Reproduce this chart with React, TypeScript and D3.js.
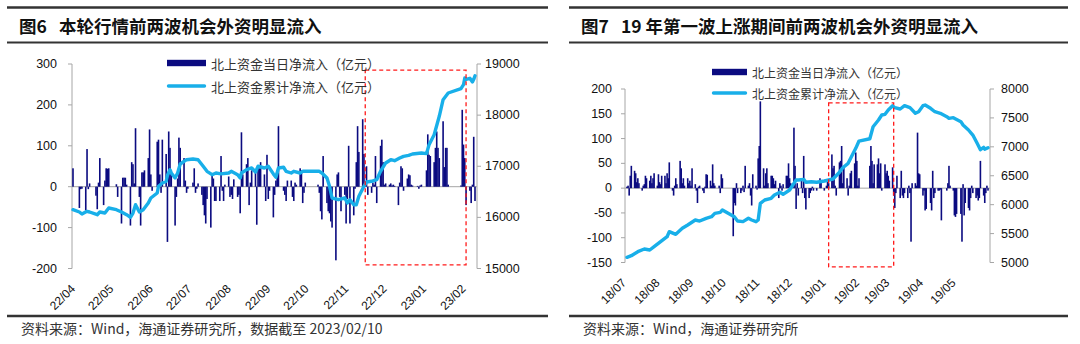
import React from "react";
import * as d3 from "d3";

// ---------------- DATA: left chart (图6) ----------------
const leftStart = "2022-04-01";
// daily northbound net inflow (亿元), one value per weekday from 2022-04-01
const leftDailyFlow: number[] = [
  45,
  0, 0, -52, -6, -5,
  -58, 92, -6, 8, 0,
  0, -22, -55, 10, 70,
  -45, 15, 45, 44, 45,
  0, 0, 0, 6, -25,
  -90, 22, 22, 22, 5,
  -95, 60, 55, 8, 143,
  -25, -95, 35, 35, 40,
  70, 140, 30, -10, 0,
  110, 115, 30, -15, 115,
  80, -135, 135, 95, 40,
  -95, -25, 20, 120, 95,
  70, 15, -15, -5, 0,
  10, 45, -15, -5, 8,
  -20, -45, -70, -90, -30,
  -100, 30, 20, -35, -35,
  -35, 75, -10, -35, 5,
  25, -25, -20, -30, 18,
  -25, -20, -65, 133, 30,
  55, 70, -45, 10, 40,
  35, -93, 50, 45, 60,
  30, -35, 78, -30, -10,
  -75, -20, 15, 30, 148,
  0, -10, -20, -35, 15,
  15, -25, -35, 10, 5,
  45, 40, -40, -15, 10,
  0, 0, 0, 0, 0,
  5, -15, -60, -80, 75,
  -40, -60, -65, -85, -100,
  -180, 30, 35, -25, -60,
  -20, -90, -30, 100, -90,
  -70, -5, 60, 148, 85,
  165, 80, 10, 50, -20,
  -15, 10, 5, 75, -40,
  100, 115, 60, 5, 8,
  5, 8, 3, 5, 2,
  -45, 10, 50, 45, -10,
  20, 30, 28, 5, 3,
  0, 2, -5, 3, 5,
  0, 40, 128, 78, 75,
  60, 95, 135, 95, 70,
  160, 48, 95, 95, 5,
  0, 0, 0, 0, 0,
  3, 188, 103, 70, -45,
  -10, -40, 5, 122, -35,
];
// cumulative northbound net inflow (亿元)
const leftCumDates: string[] = [
  "2022-04-01", "2022-04-06", "2022-04-08", "2022-04-12", "2022-04-14", "2022-04-20", "2022-04-22",
  "2022-04-26", "2022-04-29", "2022-05-05", "2022-05-09", "2022-05-13", "2022-05-16", "2022-05-18",
  "2022-05-20", "2022-05-23", "2022-05-26", "2022-05-30", "2022-06-01", "2022-06-06", "2022-06-07",
  "2022-06-10", "2022-06-13", "2022-06-14", "2022-06-16", "2022-06-17", "2022-06-20", "2022-06-22",
  "2022-06-24", "2022-06-29", "2022-07-04", "2022-07-08", "2022-07-12", "2022-07-15", "2022-07-19",
  "2022-07-22", "2022-07-26", "2022-08-01", "2022-08-03", "2022-08-08", "2022-08-10", "2022-08-11",
  "2022-08-15", "2022-08-19", "2022-08-22", "2022-08-24", "2022-08-29", "2022-09-01", "2022-09-05",
  "2022-09-07", "2022-09-09", "2022-09-13", "2022-09-15", "2022-09-19", "2022-09-21", "2022-09-26",
  "2022-09-28", "2022-09-30", "2022-10-11", "2022-10-13", "2022-10-17", "2022-10-19", "2022-10-21",
  "2022-10-26", "2022-10-31", "2022-11-02", "2022-11-04", "2022-11-07", "2022-11-09", "2022-11-11",
  "2022-11-15", "2022-11-17", "2022-11-21", "2022-11-25", "2022-11-28", "2022-12-02", "2022-12-06",
  "2022-12-09", "2022-12-13", "2022-12-16", "2022-12-20", "2022-12-23", "2022-12-30", "2023-01-03",
  "2023-01-05", "2023-01-09", "2023-01-13", "2023-01-16", "2023-01-20", "2023-01-30", "2023-02-01",
  "2023-02-02", "2023-02-03", "2023-02-06", "2023-02-08", "2023-02-09", "2023-02-10",
];
const leftCumValues: number[] = [
  16150, 16105, 16066, 16118, 16105, 16052, 16105,
  16085, 16183, 16150, 16105, 16052, 16000, 16085,
  16248, 16105, 16150, 16281, 16379, 16477, 16608,
  16672, 16706, 16823, 16933, 16868, 16770, 16868,
  17044, 17128, 17142, 17128, 17000, 16901, 16835,
  16868, 16850, 16868, 16901, 16835, 16770, 16868,
  16933, 16966, 16888, 17000, 16966, 17000, 16850,
  16784, 16966, 16980, 16901, 16868, 16901, 16868,
  16901, 16901, 16901, 16868, 16770, 16608, 16379,
  16346, 16379, 16281, 16346, 16248, 16248, 16412,
  16608, 16692, 16706, 16737, 16901, 17064, 17128,
  17108, 17161, 17194, 17213, 17240, 17260, 17247,
  17421, 17617, 17977, 18302, 18433, 18517, 18595,
  18726, 18700, 18720, 18650, 18700, 18770,
];
const leftMonthTicks = [
  "2022-04-01", "2022-05-01", "2022-06-01", "2022-07-01", "2022-08-01", "2022-09-01",
  "2022-10-01", "2022-11-01", "2022-12-01", "2023-01-01", "2023-02-01",
];
const leftMonthLabels = ["22/04", "22/05", "22/06", "22/07", "22/08", "22/09", "22/10", "22/11", "22/12", "23/01", "23/02"];
const leftYTicks = [300, 200, 100, 0, -100, -200];
const leftY2Ticks = [19000, 18000, 17000, 16000, 15000];
const leftBox = { from: "2022-11-16", to: "2023-02-03", top: 285, bottom: -191 };

// ---------------- DATA: right chart (图7) ----------------
const rightStart = "2018-07-02";
const rightDailyFlow: number[] = [
  3, 5, -15, 25, 45,
  35, 30, 12, 20, 10,
  -5, 5, 8, 25, 20,
  15, 25, 10, 20, 30,
  5, 28, 12, 8, 25,
  25, 10, 30, 20, 52,
  -5, -15, 5, 20, 8,
  55, 40, 10, 20, 5,
  20, 10, 15, 5, 40,
  8, -5, -30, 3, 5,
  -5, -10, 3, 28, 27,
  15, 5, 48, 10, 5,
  0, 5, -10, 28, 20,
  0, 0, 0, 0, 0,
  -97, -30, -35, 10, -10,
  -10, -5, 5, -8, 45,
  5, 10, -15, -35, 28,
  5, -3, 60, 85, 175,
  40, 5, 30, 40, 10,
  25, 25, 20, 8, 15,
  -20, 10, 5, -5, 8,
  25, 25, 50, 20, 10,
  122, 45, -42, 10, -15,
  15, -10, 65, -20, -43,
  -20, -10, -5, 3, -5,
  -5, 0, 0, 20, 15,
  -5, 0, 5, 15, 10,
  68, 40, 45, 5, -15,
  52, 55, 85, 10, 42,
  20, -15, 5, 30, 35,
  50, 72, 55, 5, 20,
  0, 0, 0, 0, 0,
  45, 85, 55, 10, 48,
  48, 60, 30, 50, -5,
  48, 30, 35, 25, 15,
  42, -15, -40, -10, 25,
  -20, 35, -15, -20, -10,
  -20, 5, -10, -108, 10,
  10, 5, 112, 30, 28,
  -15, -5, -45, -42, 0,
  -30, -45, 35, -20, -10,
  -5, -5, -3, -65, 0,
  0, -5, 10, 45, 5,
  -5, -55, -58, -52, 0,
  -52, -108, 8, -55, -30,
  -40, -45, -20, 5, -10,
  -20, -15, -25, -20, 55,
  -15, -30, -10, 5, -5,
];
const rightCumDates: string[] = [
  "2018-07-02", "2018-07-06", "2018-07-12", "2018-07-18", "2018-07-23", "2018-07-27", "2018-08-02",
  "2018-08-08", "2018-08-10", "2018-08-16", "2018-08-22", "2018-08-27", "2018-09-03", "2018-09-07",
  "2018-09-13", "2018-09-18", "2018-09-21", "2018-09-26", "2018-09-28", "2018-10-09", "2018-10-12",
  "2018-10-17", "2018-10-22", "2018-10-25", "2018-10-29", "2018-10-31", "2018-11-02", "2018-11-06",
  "2018-11-12", "2018-11-15", "2018-11-20", "2018-11-23", "2018-11-29", "2018-12-03", "2018-12-05",
  "2018-12-07", "2018-12-12", "2018-12-14", "2018-12-19", "2018-12-24", "2018-12-31", "2019-01-04",
  "2019-01-08", "2019-01-14", "2019-01-17", "2019-01-22", "2019-01-25", "2019-01-29", "2019-02-01",
  "2019-02-11", "2019-02-14", "2019-02-19", "2019-02-22", "2019-02-25", "2019-02-28", "2019-03-04",
  "2019-03-06", "2019-03-11", "2019-03-15", "2019-03-20", "2019-03-25", "2019-03-28", "2019-04-01",
  "2019-04-03", "2019-04-08", "2019-04-12", "2019-04-17", "2019-04-23", "2019-04-25", "2019-04-29",
  "2019-05-06", "2019-05-08", "2019-05-13", "2019-05-17", "2019-05-21", "2019-05-24", "2019-05-27",
  "2019-05-28", "2019-05-31",
];
const rightCumValues: number[] = [
  5090, 5118, 5187, 5233, 5216, 5273, 5360,
  5446, 5533, 5487, 5591, 5648, 5735, 5717,
  5764, 5792, 5850, 5868, 5908, 5792, 5717,
  5706, 5764, 5735, 5706, 5735, 6024, 6081,
  6110, 6167, 6214, 6179, 6253, 6369, 6426,
  6426, 6438, 6387, 6397, 6387, 6409, 6426,
  6444, 6560, 6639, 6715, 6829, 6974, 7100,
  7140, 7348, 7464, 7550, 7562, 7637, 7711,
  7677, 7654, 7711, 7677, 7580, 7607, 7711,
  7723, 7666, 7607, 7580, 7521, 7493, 7504,
  7435, 7377, 7291, 7204, 7061, 6950, 6990,
  6960, 6985,
];
const rightMonthTicks = [
  "2018-07-01", "2018-08-01", "2018-09-01", "2018-10-01", "2018-11-01", "2018-12-01",
  "2019-01-01", "2019-02-01", "2019-03-01", "2019-04-01", "2019-05-01",
];
const rightMonthLabels = ["18/07", "18/08", "18/09", "18/10", "18/11", "18/12", "19/01", "19/02", "19/03", "19/04", "19/05"];
const rightYTicks = [200, 150, 100, 50, 0, -50, -100, -150];
const rightY2Ticks = [8000, 7500, 7000, 6500, 6000, 5500, 5000];
const rightBox = { from: "2019-01-04", to: "2019-03-05", top: 172, bottom: -159 };

const legendBar = "北上资金当日净流入（亿元）";
const legendLine = "北上资金累计净流入（亿元）";

// ---------------- helpers ----------------
const parse = d3.timeParse("%Y-%m-%d");
function weekdaysFrom(start: string, n: number): Date[] {
  const out: Date[] = [];
  let d = parse(start) as Date;
  while (out.length < n) {
    const wd = d.getDay();
    if (wd !== 0 && wd !== 6) out.push(d);
    d = d3.timeDay.offset(d, 1);
  }
  return out;
}

const BAR = "#0b0b80";
const LINE = "#18afe9";
const AXIS = "#a6a6a6";
const NUM_FONT = "'Liberation Sans', Arial, sans-serif";
const CJK_FONT = "'Noto Sans CJK SC', 'Noto Sans', sans-serif";

type PanelProps = {
  start: string;
  daily: number[];
  cumDates: string[];
  cumValues: number[];
  ticks: string[];
  tickLabels: string[];
  yTicks: number[];
  y2Ticks: number[];
  box: { from: string; to: string; top: number; bottom: number };
  xDomainEnd: string;
  xRange: [number, number];
  axisL: number;
  axisR: number;
  yTop: number;
  yBottom: number;
  yDomain: [number, number];
  y2Domain: [number, number];
  labelEndL: number;
  labelStartR: number;
  labelDx: number;
  tickFont: number;
  legend: { x: number; w: number; y1: number; y2: number; font: number };
};

function Panel(p: PanelProps) {
  const dates = weekdaysFrom(p.start, p.daily.length);
  const x = d3.scaleTime().domain([parse(p.start) as Date, parse(p.xDomainEnd) as Date]).range(p.xRange);
  const y = d3.scaleLinear().domain(p.yDomain).range([p.yBottom, p.yTop]);
  const y2 = d3.scaleLinear().domain(p.y2Domain).range([p.yBottom, p.yTop]);
  const cum = p.cumDates.map((d, i) => ({ d: parse(d) as Date, v: p.cumValues[i] }));
  const line = d3
    .line<{ d: Date; v: number }>()
    .x((e) => x(e.d))
    .y((e) => y2(e.v));
  const bw = 1.6;
  const y0 = y(0);
  const bx0 = x(parse(p.box.from) as Date);
  const bx1 = x(parse(p.box.to) as Date);
  const by0 = y(p.box.top);
  const by1 = y(p.box.bottom);
  const labY = p.yBottom + 21;
  return (
    <g>
      {/* zero line */}
      <line x1={p.axisL} x2={p.axisR} y1={y0} y2={y0} stroke={AXIS} strokeWidth={1} />
      {/* axes */}
      <line x1={p.axisL} x2={p.axisL} y1={p.yTop} y2={p.yBottom} stroke={AXIS} strokeWidth={1} />
      <line x1={p.axisR} x2={p.axisR} y1={p.yTop} y2={p.yBottom} stroke={AXIS} strokeWidth={1} />
      {p.yTicks.map((t) => (
        <g key={"yl" + t}>
          <line x1={p.axisL - 4} x2={p.axisL} y1={y(t)} y2={y(t)} stroke={AXIS} />
          <text x={p.labelEndL} y={y(t)} textAnchor="end" dominantBaseline="central" fontFamily={NUM_FONT} fontSize={p.tickFont} fill="#111">
            {t}
          </text>
        </g>
      ))}
      {p.y2Ticks.map((t) => (
        <g key={"yr" + t}>
          <line x1={p.axisR} x2={p.axisR + 4} y1={y2(t)} y2={y2(t)} stroke={AXIS} />
          <text x={p.labelStartR} y={y2(t)} textAnchor="start" dominantBaseline="central" fontFamily={NUM_FONT} fontSize={p.tickFont} fill="#111">
            {t}
          </text>
        </g>
      ))}
      {/* bars */}
      {p.daily.map((v, i) =>
        v === 0 ? null : (
          <rect key={"b" + i} x={x(dates[i]) - bw / 2} width={bw} y={Math.min(y(v), y0)} height={Math.abs(y(v) - y0)} fill={BAR} />
        )
      )}
      {/* cumulative line */}
      <path d={line(cum) || ""} fill="none" stroke={LINE} strokeWidth={3.4} strokeLinejoin="round" strokeLinecap="round" />
      {/* x labels */}
      {p.ticks.map((t, i) => {
        const ax = x(parse(t) as Date) + p.labelDx;
        return (
          <text key={"xl" + t} x={ax} y={labY} textAnchor="end" transform={`rotate(-45 ${ax} ${labY})`} fontFamily={NUM_FONT} fontSize={12} fill="#111">
            {p.tickLabels[i]}
          </text>
        );
      })}
      {/* highlight box */}
      <rect x={bx0} y={by0} width={bx1 - bx0} height={by1 - by0} fill="none" stroke="#ff1a1a" strokeWidth={1.3} strokeDasharray="4 3" />
      {/* legend */}
      <rect x={p.legend.x} y={p.legend.y1 - 3.2} width={p.legend.w} height={6.4} fill={BAR} />
      <text x={p.legend.x + p.legend.w + 5} y={p.legend.y1} dominantBaseline="central" fontFamily={CJK_FONT} fontSize={p.legend.font} fill="#333">
        {legendBar}
      </text>
      <line x1={p.legend.x + 1.5} x2={p.legend.x + p.legend.w - 1.5} y1={p.legend.y2} y2={p.legend.y2} stroke={LINE} strokeWidth={3.4} strokeLinecap="round" />
      <text x={p.legend.x + p.legend.w + 5} y={p.legend.y2} dominantBaseline="central" fontFamily={CJK_FONT} fontSize={p.legend.font} fill="#333">
        {legendLine}
      </text>
    </g>
  );
}

function Frame({ x0, x1, figNo, title, source }: { x0: number; x1: number; figNo: string; title: string; source: string }) {
  return (
    <g>
      <line x1={x0} x2={x1} y1={7.5} y2={7.5} stroke="#333" strokeWidth={2.6} />
      <line x1={x0} x2={x1} y1={42.5} y2={42.5} stroke="#333" strokeWidth={2} />
      <line x1={x0} x2={x1} y1={316} y2={316} stroke="#333" strokeWidth={2.6} />
      <text x={x0 + 12} y={25.5} dominantBaseline="central" fontFamily={CJK_FONT} fontWeight="bold" fontSize={17.5} fill="#111">
        {figNo}
      </text>
      <text x={x0 + 52} y={25.5} dominantBaseline="central" fontFamily={CJK_FONT} fontWeight="bold" fontSize={17.5} fill="#111" style={{ whiteSpace: "pre" }}>
        {title}
      </text>
      <text x={x0 + 14} y={328} dominantBaseline="central" fontFamily={CJK_FONT} fontSize={14} fill="#333">
        {source}
      </text>
    </g>
  );
}

export default function App() {
  return (
    <svg width={1080} height={344} viewBox="0 0 1080 344" style={{ position: "absolute", left: 0, top: 0, display: "block", background: "#fff" }}>
      <rect x={0} y={0} width={1080} height={344} fill="#fff" />
      <Frame x0={7} x1={548} figNo="图6" title="本轮行情前两波机会外资明显流入" source="资料来源：Wind，海通证券研究所，数据截至 2023/02/10" />
      <Frame x0={569} x1={1068} figNo="图7" title="19 年第一波上涨期间前两波机会外资明显流入" source="资料来源：Wind，海通证券研究所" />
      <Panel
        start={leftStart}
        daily={leftDailyFlow}
        cumDates={leftCumDates}
        cumValues={leftCumValues}
        ticks={leftMonthTicks}
        tickLabels={leftMonthLabels}
        yTicks={leftYTicks}
        y2Ticks={leftY2Ticks}
        box={leftBox}
        xDomainEnd="2023-02-10"
        xRange={[73, 475]}
        axisL={72}
        axisR={477}
        yTop={64}
        yBottom={268.5}
        yDomain={[-200, 300]}
        y2Domain={[15000, 19000]}
        labelEndL={57}
        labelStartR={485}
        labelDx={3}
        tickFont={12.5}
        legend={{ x: 167, w: 39, y1: 63, y2: 86, font: 13 }}
      />
      <Panel
        start={rightStart}
        daily={rightDailyFlow}
        cumDates={rightCumDates}
        cumValues={rightCumValues}
        ticks={rightMonthTicks}
        tickLabels={rightMonthLabels}
        yTicks={rightYTicks}
        y2Ticks={rightY2Ticks}
        box={rightBox}
        xDomainEnd="2019-05-31"
        xRange={[627, 988]}
        axisL={625}
        axisR={990}
        yTop={89}
        yBottom={262.5}
        yDomain={[-150, 200]}
        y2Domain={[5000, 8000]}
        labelEndL={612}
        labelStartR={1001}
        labelDx={1}
        tickFont={12.5}
        legend={{ x: 712, w: 35, y1: 72, y2: 93, font: 12 }}
      />
    </svg>
  );
}
